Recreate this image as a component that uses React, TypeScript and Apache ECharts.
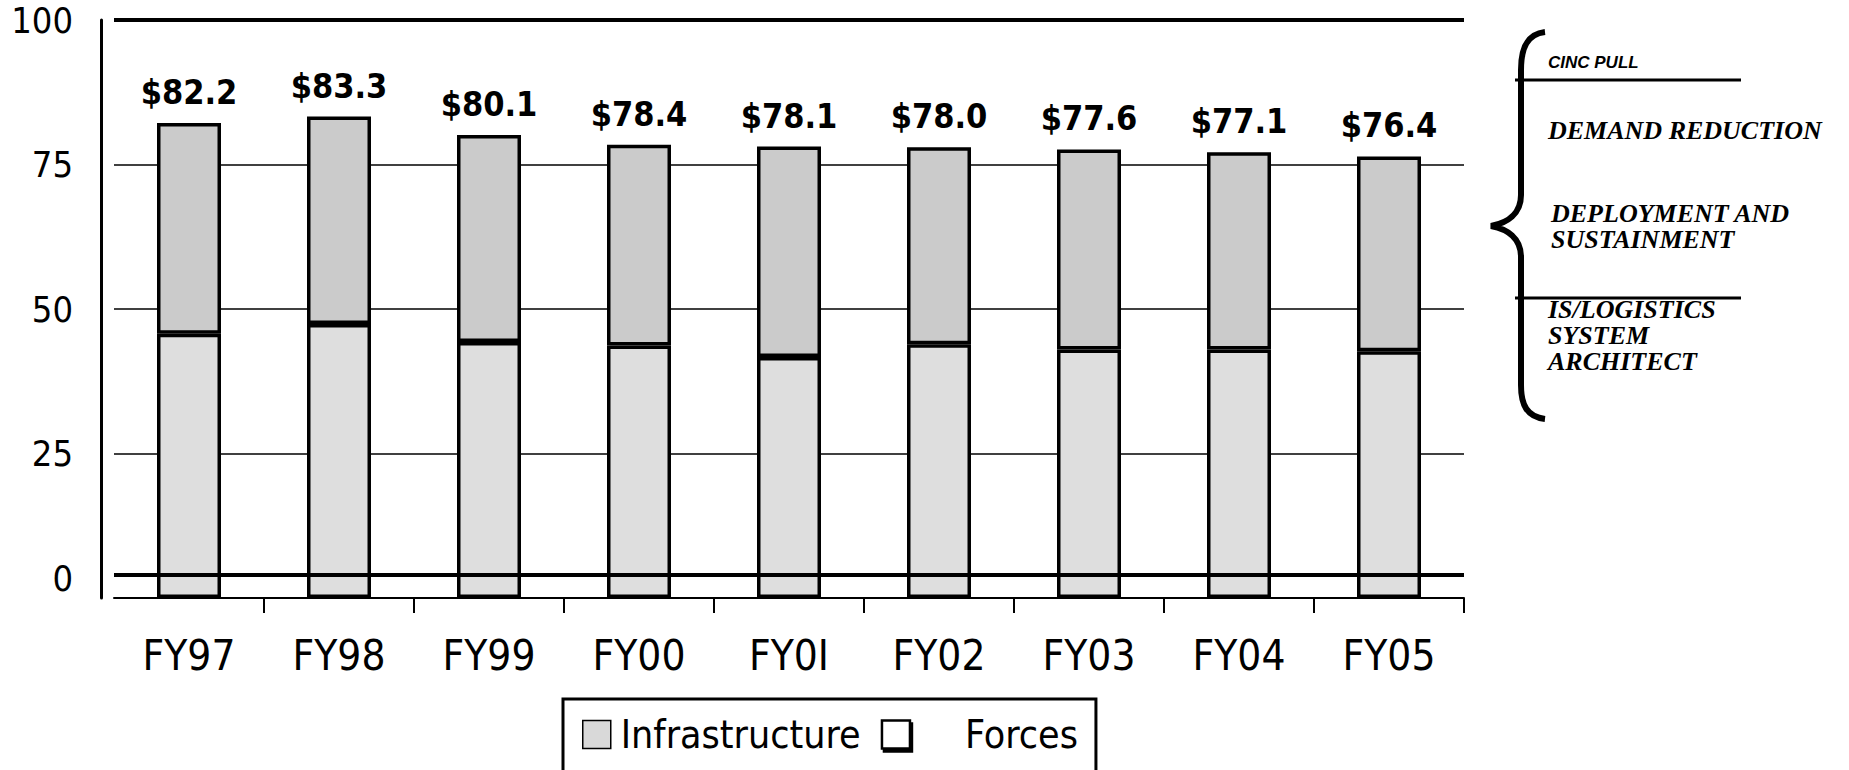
import React, { useEffect, useRef } from "react";
import * as echarts from "echarts";

const categories = ["FY97", "FY98", "FY99", "FY00", "FY0I", "FY02", "FY03", "FY04", "FY05"];
const totals = [82.2, 83.3, 80.1, 78.4, 78.1, 78.0, 77.6, 77.1, 76.4];
const infrastructure = [45.7, 47.4, 44.3, 43.7, 41.7, 43.9, 43.0, 43.0, 42.7];
const forces = totals.map((t, i) => Math.round((t - infrastructure[i]) * 10) / 10);
const yMin = 0;
const yMax = 100;
const yStep = 25;
const zeroRuleLevel = 4;
const noteLines = [
  { text: "CINC PULL", style: "sans" },
  { text: "DEMAND REDUCTION", style: "serif" },
  { text: "DEPLOYMENT AND", style: "serif" },
  { text: "SUSTAINMENT", style: "serif" },
  { text: "IS/LOGISTICS", style: "serif" },
  { text: "SYSTEM", style: "serif" },
  { text: "ARCHITECT", style: "serif" },
];

const NARROW = "'Liberation Sans Narrow', 'DejaVu Sans Condensed', sans-serif";

const BRACE =
  "M1545 32 C1527 34 1521 48 1521 70 L1521 195 C1521 214 1507 223 1491 226 C1507 229 1521 238 1521 257 L1521 385 C1521 405 1527 417 1545 419";

let registered = false;
function registerShapes() {
  if (registered) return;
  echarts.graphic.registerShape("brace", echarts.graphic.extendPath(BRACE, {}));
  registered = true;
}

export default function App() {
  const ref = useRef<HTMLDivElement>(null);
  useEffect(() => {
    if (!ref.current) return;
    registerShapes();
    const chart = echarts.init(ref.current, undefined, { renderer: "svg" });
    const notePos = [
      { x: 1548, y: 62, size: 17 },
      { x: 1548, y: 130, size: 26 },
      { x: 1551, y: 213, size: 26 },
      { x: 1551, y: 239, size: 26 },
      { x: 1548, y: 309, size: 26 },
      { x: 1548, y: 335, size: 26 },
      { x: 1548, y: 361, size: 26 },
    ];
    const noteEls: any[] = noteLines.map((n, i) => ({
      type: "text",
      x: notePos[i].x,
      y: notePos[i].y,
      style: {
        text: n.text,
        fill: "#000",
        fontSize: notePos[i].size,
        fontStyle: "italic",
        fontWeight: "bold",
        fontFamily: n.style === "sans" ? "'Liberation Sans', Arial, sans-serif" : "'Liberation Serif', 'Times New Roman', serif",
        verticalAlign: "middle",
        align: "left",
      },
    }));
    const option: any = {
      animation: false,
      backgroundColor: "#fff",
      grid: { left: 114, right: 385, top: 20, bottom: 172, containLabel: false },
      legend: {
        left: 563,
        top: 699,
        padding: [16, 18, 40, 19],
        itemWidth: 28,
        itemHeight: 28,
        itemGap: 20,
        borderColor: "#000",
        borderWidth: 3,
        icon: "rect",
        data: [
          { name: "Infrastructure", itemStyle: { color: "#d9d9d9", borderColor: "#000", borderWidth: 1.5 } },
          {
            name: "Forces",
            itemStyle: { color: "#fff", borderColor: "#000", borderWidth: 2.5, shadowColor: "#000", shadowOffsetX: 2, shadowOffsetY: 3 },
          },
        ],
        formatter: (name: string) => (name === "Forces" ? "{f|" + name + "}" : "{a|" + name + "}"),
        textStyle: {
          fontSize: 39,
          color: "#000",
          fontFamily: NARROW,
          rich: {
            a: { fontSize: 39, fontFamily: NARROW, color: "#000", padding: [0, 0, 0, 5] },
            f: { fontSize: 39, fontFamily: NARROW, color: "#000", padding: [0, 0, 0, 50] },
          },
        },
      },
      xAxis: {
        type: "category",
        data: categories,
        axisLine: { show: true, lineStyle: { color: "#000", width: 2 } },
        axisTick: { show: true, length: 15, interval: (i: number) => i !== 0, lineStyle: { color: "#000", width: 2 } },
        axisLabel: { color: "#000", fontSize: 42, fontFamily: NARROW, margin: 36 },
      },
      yAxis: {
        type: "value",
        min: yMin,
        max: yMax,
        interval: yStep,
        offset: 13,
        axisLine: { show: true, lineStyle: { color: "#000", width: 3 } },
        axisTick: { show: false },
        splitLine: { show: true, lineStyle: { color: "#000", width: 1.5 } },
        axisLabel: {
          color: "#000",
          fontSize: 36,
          fontFamily: NARROW,
          margin: 28,
          formatter: (v: number) => (v === 0 ? "{z|0}" : String(v)),
          rich: { z: { fontSize: 36, fontFamily: NARROW, color: "#000", padding: [0, 0, 40, 0] } },
        },
      },
      series: [
        {
          name: "Infrastructure",
          type: "bar",
          stack: "total",
          barWidth: 64,
          data: infrastructure,
          itemStyle: { color: "#dedede", borderColor: "#000", borderWidth: 3.5 },
          markLine: {
            silent: true,
            symbol: ["none", "none"],
            label: { show: false },
            lineStyle: { color: "#000", width: 4, type: "solid" },
            data: [{ yAxis: zeroRuleLevel }, { yAxis: yMax }],
          },
        },
        {
          name: "Forces",
          type: "bar",
          stack: "total",
          barWidth: 64,
          data: forces,
          itemStyle: { color: "#cbcbcb", borderColor: "#000", borderWidth: 3.5 },
          label: {
            show: true,
            position: "top",
            distance: 14,
            color: "#000",
            fontSize: 34,
            fontWeight: "bold",
            fontFamily: NARROW,
            formatter: (p: any) => "$" + totals[p.dataIndex].toFixed(1),
          },
        },
      ],
      graphic: [
        { type: "brace", x: 0, y: 0, style: { stroke: "#000", lineWidth: 6, fill: "none" } },
        { type: "line", shape: { x1: 1515, y1: 80, x2: 1741, y2: 80 }, style: { stroke: "#000", lineWidth: 3 } },
        { type: "line", shape: { x1: 1515, y1: 298, x2: 1741, y2: 298 }, style: { stroke: "#000", lineWidth: 3 } },
        ...noteEls,
      ],
    };
    chart.setOption(option);
    return () => chart.dispose();
  }, []);
  return <div ref={ref} style={{ position: "fixed", left: 0, top: 0, width: 1849, height: 770 }} />;
}
